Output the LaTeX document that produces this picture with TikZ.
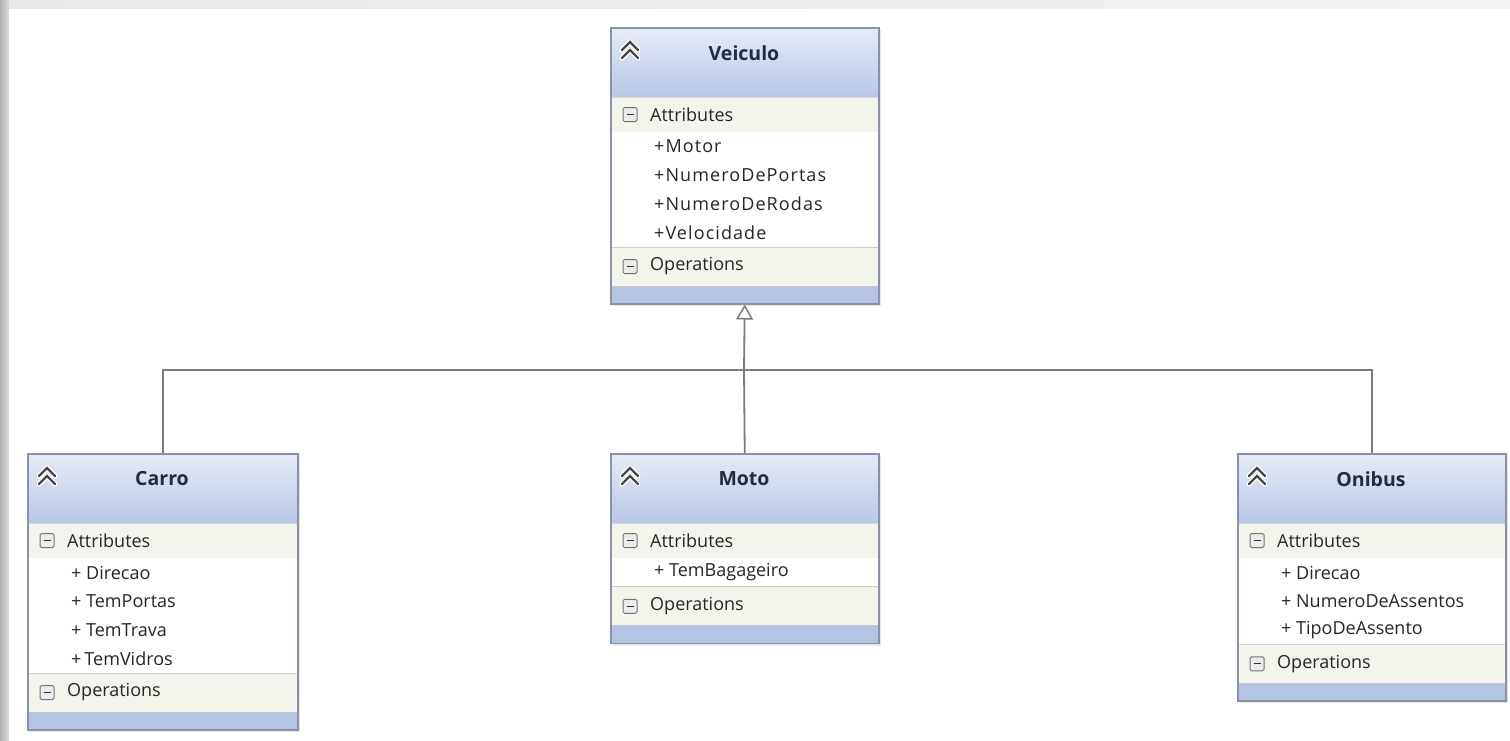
\documentclass[tikz,border=0pt]{standalone}
\usepackage{fontspec}
\setmainfont{Open Sans}
\usetikzlibrary{arrows.meta}
\definecolor{boxborder}{HTML}{8792A6}
\definecolor{headtop}{HTML}{E6EBF6}
\definecolor{headbot}{HTML}{B9C7E7}
\definecolor{band}{HTML}{B6C4E4}
\definecolor{rowbg}{HTML}{F3F5EC}
\definecolor{titlecol}{HTML}{222B40}
\definecolor{txtcol}{HTML}{262626}
\definecolor{conncol}{HTML}{7C7C7C}
\tikzset{
  conn/.style={draw=conncol, line width=1.8pt},
  itemtxt/.style={anchor=west, inner sep=0pt, text=txtcol, font=\fontsize{18}{20}\selectfont},
  titletxt/.style={inner sep=0pt, text=titlecol, font=\fontsize{19.5}{22}\selectfont\bfseries},
  chev/.style={draw=black!72, line width=2.3pt, line cap=round, line join=miter},
  chevhalo/.style={draw=white, line width=5pt, line cap=round, line join=round},
  minusbox/.style={draw=black!55, fill=black!8, line width=1pt, rounded corners=1.5pt},
}
\newcommand\spaced[1]{{\addfontfeature{LetterSpace=6}#1}}
% #1 name, #2 x1, #3 y1, #4 x2, #5 title, #6 number of items, #7 items
\newcommand\umlclass[7]{%
  \pgfmathsetmacro\ya{#3+70}%
  \pgfmathsetmacro\yb{\ya+35}%
  \pgfmathsetmacro\yc{\yb+28.75*#6}%
  \pgfmathsetmacro\yd{\yc+39}%
  \pgfmathsetmacro\ye{\yd+17}%
  \pgfmathsetmacro\xm{(#2+#4)/2}%
  \pgfmathsetmacro\bw{#4-#2}%
  \pgfmathsetmacro\bh{\ye-#3}%
  % soft shadow
  \fill[black!10] (#2+3,#3+3) rectangle (#4+3,\ye+3);
  % header
  \shade[top color=headtop, bottom color=headbot] (#2,#3) rectangle (#4,\ya);
  % rows
  \fill[rowbg] (#2,\ya) rectangle (#4,\yb);
  \fill[white] (#2,\yb) rectangle (#4,\yc);
  \fill[rowbg] (#2,\yc) rectangle (#4,\yd);
  \fill[band] (#2,\yd) rectangle (#4,\ye);
  \draw[black!15, line width=0.8pt] (#2,\ya) -- (#4,\ya);
  \draw[black!20, line width=0.8pt] (#2,\yc) -- (#4,\yc);
  \draw[black!22, line width=0.8pt] (#2,\yd) -- (#4,\yd);
  % outline node
  \node[draw=boxborder, line width=1.5pt, anchor=north west, inner sep=0pt,
        minimum width=\bw pt, minimum height=\bh pt] (#1) at (#2,#3) {};
  % title
  \node[titletxt] (#1-title) at (\xm,#3+26) {#5};
  % chevron icon
  \begin{scope}[shift={(#2+20,#3+22)}]
    \path[chevhalo] (-8,1) -- (0,-7) -- (8,1);
    \path[chevhalo] (-8,9) -- (0,1) -- (8,9);
    \path[chev] (-8,1) -- (0,-7) -- (8,1);
    \path[chev] (-8,9) -- (0,1) -- (8,9);
  \end{scope}
  % attributes header
  \pgfmathsetmacro\yat{\ya+17.5}%
  \draw[minusbox] (#2+13,\yat-7) rectangle (#2+27,\yat+7);
  \draw[black!80, line width=1.4pt] (#2+16.5,\yat) -- (#2+23.5,\yat);
  \node[itemtxt] (#1-attr) at (#2+40,\yat) {Attributes};
  % items
  \foreach \it [count=\i from 0] in {#7} {
    \node[itemtxt] (#1-item\i) at (#2+44,\yb+14.5+28.75*\i) {\it};
  }
  % operations header
  \pgfmathsetmacro\yop{\yc+19.5}%
  \draw[minusbox] (#2+13,\yop-7) rectangle (#2+27,\yop+7);
  \draw[black!80, line width=1.4pt] (#2+16.5,\yop) -- (#2+23.5,\yop);
  \node[itemtxt] (#1-ops) at (#2+40,\yop) {Operations};
}
\begin{document}
\begin{tikzpicture}[x=1pt,y=-1pt]
\useasboundingbox (0,0) rectangle (1510,740);
\fill[white] (0,0) rectangle (1510,740);
\shade[left color=black!9, right color=black!5] (0,0) rectangle (1510,8);
\shade[left color=black!30, right color=black!14] (0,0) rectangle (9,740);

\umlclass{veiculo}{610}{27}{878}{Veiculo}{4}{\spaced{+Motor},\spaced{+NumeroDePortas},\spaced{+NumeroDeRodas},\spaced{+Velocidade}}
\umlclass{carro}{27}{453}{297}{Carro}{4}{+ Direcao,+ TemPortas,+ TemTrava,+\,TemVidros}
\umlclass{moto}{610}{453}{878}{Moto}{1}{+ TemBagageiro}
\umlclass{onibus}{1237}{453}{1505}{Onibus}{3}{+ Direcao,+ NumeroDeAssentos,+ TipoDeAssento}

\coordinate (bus) at (744,370);
\draw[conn] (carro.north) |- (bus);
\draw[conn] (onibus.north) |- (bus);
\draw[conn] (moto.north) -- (bus);
\draw[conn, -{Triangle[open, length=15pt, width=17pt, fill=white, line width=1.5pt]}] (bus) -- (veiculo.south);
\end{tikzpicture}
\end{document}
